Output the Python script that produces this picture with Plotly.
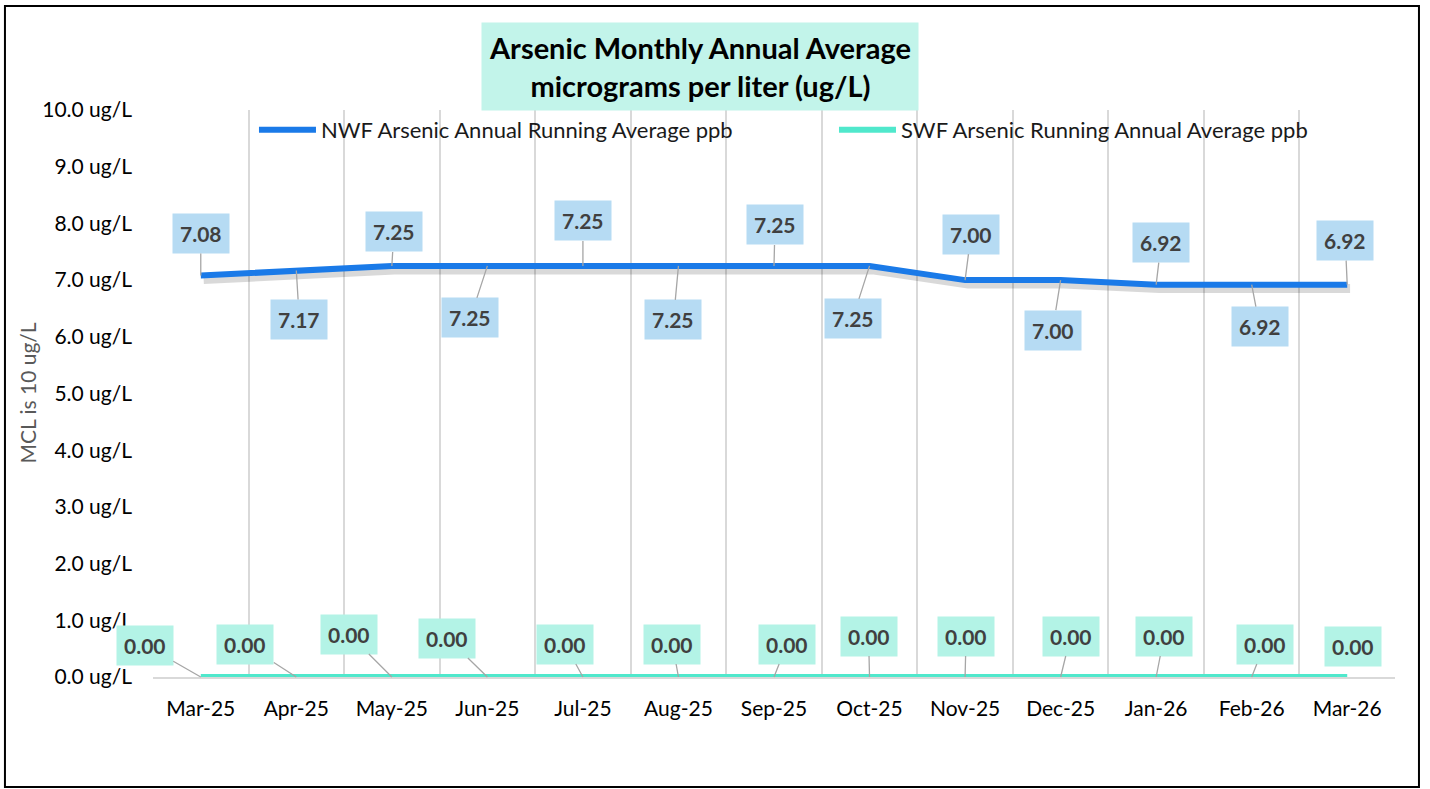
import plotly.graph_objects as go

months = ["Mar-25", "Apr-25", "May-25", "Jun-25", "Jul-25", "Aug-25", "Sep-25",
          "Oct-25", "Nov-25", "Dec-25", "Jan-26", "Feb-26", "Mar-26"]
nwf_values = [7.08, 7.17, 7.25, 7.25, 7.25, 7.25, 7.25, 7.25, 7.00, 7.00, 6.92, 6.92, 6.92]
swf_values = [0.00, 0.00, 0.00, 0.00, 0.00, 0.00, 0.00, 0.00, 0.00, 0.00, 0.00, 0.00, 0.00]
y_ticks = [0, 1, 2, 3, 4, 5, 6, 7, 8, 9, 10]

nwf_name = "NWF Arsenic Annual Running Average ppb"
swf_name = "SWF Arsenic Running Annual Average ppb"

FONT = "Lato"
NWF_COLOR = "#1a7ae8"
SWF_COLOR = "#50e8cc"
NWF_LABEL_BG = "#b6dbf3"
SWF_LABEL_BG = "#b3f3e6"

# label offsets in pixels (text centre relative to point)
nwf_offsets = [(0, -42), (3, 49), (2, -34), (-17, 52), (0, -45), (-5, 54), (1, -41),
               (-17, 53), (6, -46), (-8, 50), (5, -42), (8, 42), (-2, -44)]
swf_offsets = [(-56, -32), (-51, -33), (-43, -43), (-40, -39), (-18, -33), (-6, -33), (13, -33),
               (-1, -41), (1, -41), (10, -41), (8, -41), (13, -33), (6, -31)]

x = list(range(len(months)))

fig = go.Figure()

# soft drop shadow under NWF line
fig.add_trace(go.Scatter(
    x=[v + 0.03 for v in x], y=[v - 0.07 for v in nwf_values], mode="lines",
    line=dict(color="rgba(0,0,0,0.15)", width=9), hoverinfo="skip", showlegend=False))

fig.add_trace(go.Scatter(
    x=x, y=nwf_values, mode="lines", name=nwf_name, legend="legend",
    line=dict(color=NWF_COLOR, width=6)))
fig.add_trace(go.Scatter(
    x=x, y=swf_values, mode="lines", name=swf_name, legend="legend2",
    line=dict(color=SWF_COLOR, width=6)))

annotations = []
for i, v in enumerate(nwf_values):
    ax, ay = nwf_offsets[i]
    annotations.append(dict(
        x=x[i], y=v, xref="x", yref="y", text=f"<b>{v:.2f}</b>",
        showarrow=True, arrowhead=0, arrowwidth=1.3, arrowcolor="#a6a6a6",
        ax=ax, ay=ay, standoff=0, bgcolor=NWF_LABEL_BG, borderpad=7,
        font=dict(family=FONT, size=21, color="#404040")))
for i, v in enumerate(swf_values):
    ax, ay = swf_offsets[i]
    annotations.append(dict(
        x=x[i], y=v, xref="x", yref="y", text=f"<b>{v:.2f}</b>",
        showarrow=True, arrowhead=0, arrowwidth=1.3,
        arrowcolor="#a6a6a6" if i < len(swf_values) - 1 else "rgba(0,0,0,0)",
        ax=ax, ay=ay, standoff=0, bgcolor=SWF_LABEL_BG, borderpad=7,
        font=dict(family=FONT, size=21, color="#404040")))

# title box
annotations.append(dict(
    x=0.4404, y=1.0767, xref="paper", yref="paper", xanchor="center", yanchor="middle",
    text="<b>Arsenic Monthly Annual Average<br>micrograms per liter (ug/L)</b>",
    showarrow=False, bgcolor="#c2f4ea", borderpad=7,
    font=dict(family=FONT, size=29, color="#000000")))

# y-axis title
annotations.append(dict(
    x=-0.1014, y=0.5, xref="paper", yref="paper", xanchor="center", yanchor="middle",
    text="MCL is 10 ug/L", textangle=-90, showarrow=False,
    font=dict(family=FONT, size=21, color="#595959")))

legend_common = dict(orientation="h", yanchor="middle", xanchor="left", y=0.9647,
                     bgcolor="rgba(0,0,0,0)", itemwidth=57,
                     font=dict(family=FONT, size=22, color="#1a1a1a"))

fig.update_layout(
    width=1430, height=789,
    margin=dict(l=153, r=35, t=110, b=112),
    paper_bgcolor="white", plot_bgcolor="white",
    font=dict(family=FONT, size=21, color="#000000"),
    annotations=annotations,
    showlegend=True,
    legend=dict(x=0.0813, **legend_common),
    legend2=dict(x=0.5483, **legend_common),
    shapes=[dict(type="rect", xref="paper", yref="paper",
                 x0=-0.1192, x1=1.0193, y0=-0.194, y1=1.1834,
                 line=dict(color="black", width=2), fillcolor="rgba(0,0,0,0)", layer="below")],
)

fig.update_xaxes(
    range=[-0.5, len(months) - 0.5], tickvals=x, ticktext=months,
    showgrid=False, zeroline=False, showline=True, linecolor="#d9d9d9", linewidth=2,
    ticks="", ticklabelstandoff=12, tickfont=dict(family=FONT, size=21, color="#000000"),
    minor=dict(tickvals=[i - 0.5 for i in range(len(months) + 1)], showgrid=True,
               gridcolor="#d9d9d9", gridwidth=2, ticks=""),
)
fig.update_yaxes(
    range=[0, 10], tickvals=y_ticks, ticktext=[f"{v:.1f} ug/L" for v in y_ticks],
    showgrid=False, zeroline=False, showline=False, ticks="", ticklabelstandoff=20,
    tickfont=dict(family=FONT, size=21, color="#000000"),
)

fig.write_html("out.html", config={"displayModeBar": False},
               post_script="document.body.style.margin='0';")
